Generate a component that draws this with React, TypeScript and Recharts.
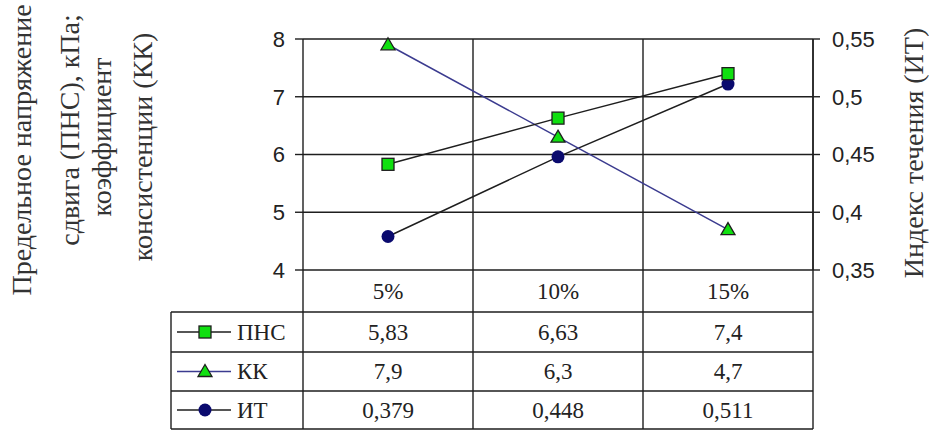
import { LineChart, Line, XAxis, YAxis, CartesianGrid, Customized } from 'recharts';

const categories = ['5%', '10%', '15%'];
const pnsValues = [5.83, 6.63, 7.4];
const kkValues = [7.9, 6.3, 4.7];
const itValues = [0.379, 0.448, 0.511];
const leftTicks = [4, 5, 6, 7, 8];
const rightTicks = [0.35, 0.4, 0.45, 0.5, 0.55];

const W = 929;
const H = 430;
const margin = { top: 39, right: 46, bottom: 0, left: 243 };
const LEFT_AXIS_W = 60;
const RIGHT_AXIS_W = 70;
const TABLE_H = 160;
const plotLeft = margin.left + LEFT_AXIS_W;
const plotRight = W - margin.right - RIGHT_AXIS_W;
const plotBottom = H - margin.bottom - TABLE_H;
const band = (plotRight - plotLeft) / categories.length;

// table geometry (rows under the plot)
const tableLeft = 171;
const rowLines = [312, 352, 391, 429];
const headerMid = (plotBottom + rowLines[0]) / 2;
const rowMids = [332, 371.5, 410];

const INK = '#1e1e1e';
const GREEN = '#10e010';
const NAVY = '#0a0a6e';
const serif = '"Liberation Serif", "Times New Roman", serif';
const sans = '"Liberation Sans", Arial, sans-serif';
const serifText = { fontFamily: serif, fontSize: 23, fill: '#222' };
const titleText = { fontFamily: serif, fontSize: 28, fill: '#333' };

const fmt = (v: number) => String(Number(v.toFixed(3))).replace('.', ',');

type Marker = 'square' | 'triangle' | 'circle';

const drawMarker = (kind: Marker, cx: number, cy: number, key?: string | number) => {
  if (kind === 'square') {
    return <rect key={key} x={cx - 6} y={cy - 6} width={12} height={12} fill={GREEN} stroke={INK} strokeWidth={1.3} />;
  }
  if (kind === 'triangle') {
    return (
      <polygon
        key={key}
        points={`${cx},${cy - 7} ${cx + 7},${cy + 5} ${cx - 7},${cy + 5}`}
        fill={GREEN}
        stroke={INK}
        strokeWidth={1.3}
      />
    );
  }
  return <circle key={key} cx={cx} cy={cy} r={6.5} fill={NAVY} />;
};

const series = [
  { key: 'it', name: 'ИТ', values: itValues, axis: 'right', stroke: INK, marker: 'circle' as Marker },
  { key: 'kk', name: 'КК', values: kkValues, axis: 'left', stroke: '#3b3b8f', marker: 'triangle' as Marker },
  { key: 'pns', name: 'ПНС', values: pnsValues, axis: 'left', stroke: INK, marker: 'square' as Marker },
];
// table rows are listed in this order
const tableOrder = ['pns', 'kk', 'it'];

const data = categories.map((c, i) => ({
  cat: c,
  pns: pnsValues[i],
  kk: kkValues[i],
  it: itValues[i],
}));

// each category tick draws its own column of the data table
const TableColumn = (props: any) => {
  const { x, index } = props;
  return (
    <g>
      <text x={x} y={headerMid} dominantBaseline="central" textAnchor="middle" style={serifText}>
        {categories[index]}
      </text>
      {tableOrder.map((k, r) => {
        const s = series.find((q) => q.key === k)!;
        return (
          <text key={k} x={x} y={rowMids[r]} dominantBaseline="central" textAnchor="middle" style={serifText}>
            {fmt(s.values[index])}
          </text>
        );
      })}
    </g>
  );
};

const Frame = () => (
  <g>
    {/* table borders */}
    {categories.map((_, i) => (
      <line key={i} x1={plotLeft + band * (i + 1)} x2={plotLeft + band * (i + 1)} y1={margin.top} y2={rowLines[3]} stroke={INK} strokeWidth={1.4} />
    ))}
    <line x1={plotLeft} x2={plotLeft} y1={plotBottom} y2={rowLines[3]} stroke={INK} strokeWidth={1.4} />
    <line x1={tableLeft} x2={tableLeft} y1={rowLines[0]} y2={rowLines[3]} stroke={INK} strokeWidth={1.4} />
    {rowLines.map((y) => (
      <line key={y} x1={tableLeft} x2={plotRight} y1={y} y2={y} stroke={INK} strokeWidth={1.4} />
    ))}
    {/* legend keys in the first table column */}
    {tableOrder.map((k, r) => {
      const s = series.find((q) => q.key === k)!;
      const y = rowMids[r];
      return (
        <g key={k}>
          <line x1={177} x2={231} y1={y} y2={y} stroke={s.stroke} strokeWidth={1.5} />
          {drawMarker(s.marker, 205, y)}
          <text x={237} y={y} dominantBaseline="central" style={serifText}>
            {s.name}
          </text>
        </g>
      );
    })}
    {/* axis titles */}
    <g textAnchor="middle">
      <text transform="translate(21,150) rotate(-90)" dominantBaseline="central" style={titleText}>Предельное напряжение</text>
      <text transform="translate(69,130) rotate(-90)" dominantBaseline="central" style={titleText}>сдвига (ПНС), кПа;</text>
      <text transform="translate(101,137) rotate(-90)" dominantBaseline="central" style={titleText}>коэффициент</text>
      <text transform="translate(142,147) rotate(-90)" dominantBaseline="central" style={titleText}>консистенции (КК)</text>
      <text transform="translate(913,153) rotate(-90)" dominantBaseline="central" style={titleText}>Индекс течения (ИТ)</text>
    </g>
  </g>
);

export default function App() {
  return (
    <div style={{ position: 'absolute', left: 0, top: 0, width: W, height: H, background: '#fff' }}>
      <LineChart width={W} height={H} data={data} margin={margin}>
        <CartesianGrid yAxisId="left" vertical={false} stroke={INK} strokeWidth={1.4} strokeOpacity={1} />
        <XAxis
          dataKey="cat"
          scale="band"
          height={TABLE_H}
          axisLine={false}
          tickLine={false}
          tick={<TableColumn />}
          interval={0}
        />
        <YAxis
          yAxisId="left"
          width={LEFT_AXIS_W}
          domain={[4, 8]}
          ticks={leftTicks}
          tickSize={8}
          tickMargin={10}
          axisLine={{ stroke: INK, strokeWidth: 1.4 }}
          tickLine={{ stroke: INK, strokeWidth: 1.4 }}
          tick={{ fill: '#222', fontSize: 22, fontFamily: sans }}
          tickFormatter={fmt}
        />
        <YAxis
          yAxisId="right"
          orientation="right"
          width={RIGHT_AXIS_W}
          domain={[0.35, 0.55]}
          ticks={rightTicks}
          tickSize={7}
          tickMargin={12}
          axisLine={{ stroke: INK, strokeWidth: 1.4 }}
          tickLine={{ stroke: INK, strokeWidth: 1.4 }}
          tick={{ fill: '#222', fontSize: 22, fontFamily: sans, textAnchor: 'start' }}
          tickFormatter={fmt}
        />
        <Customized component={Frame} />
        {series.map((s) => (
          <Line
            key={s.key}
            yAxisId={s.axis}
            dataKey={s.key}
            type="linear"
            stroke={s.stroke}
            strokeWidth={1.5}
            isAnimationActive={false}
            dot={(p: any) => drawMarker(s.marker, p.cx, p.cy, `${s.key}-${p.index}`)}
            activeDot={false}
          />
        ))}
      </LineChart>
    </div>
  );
}
